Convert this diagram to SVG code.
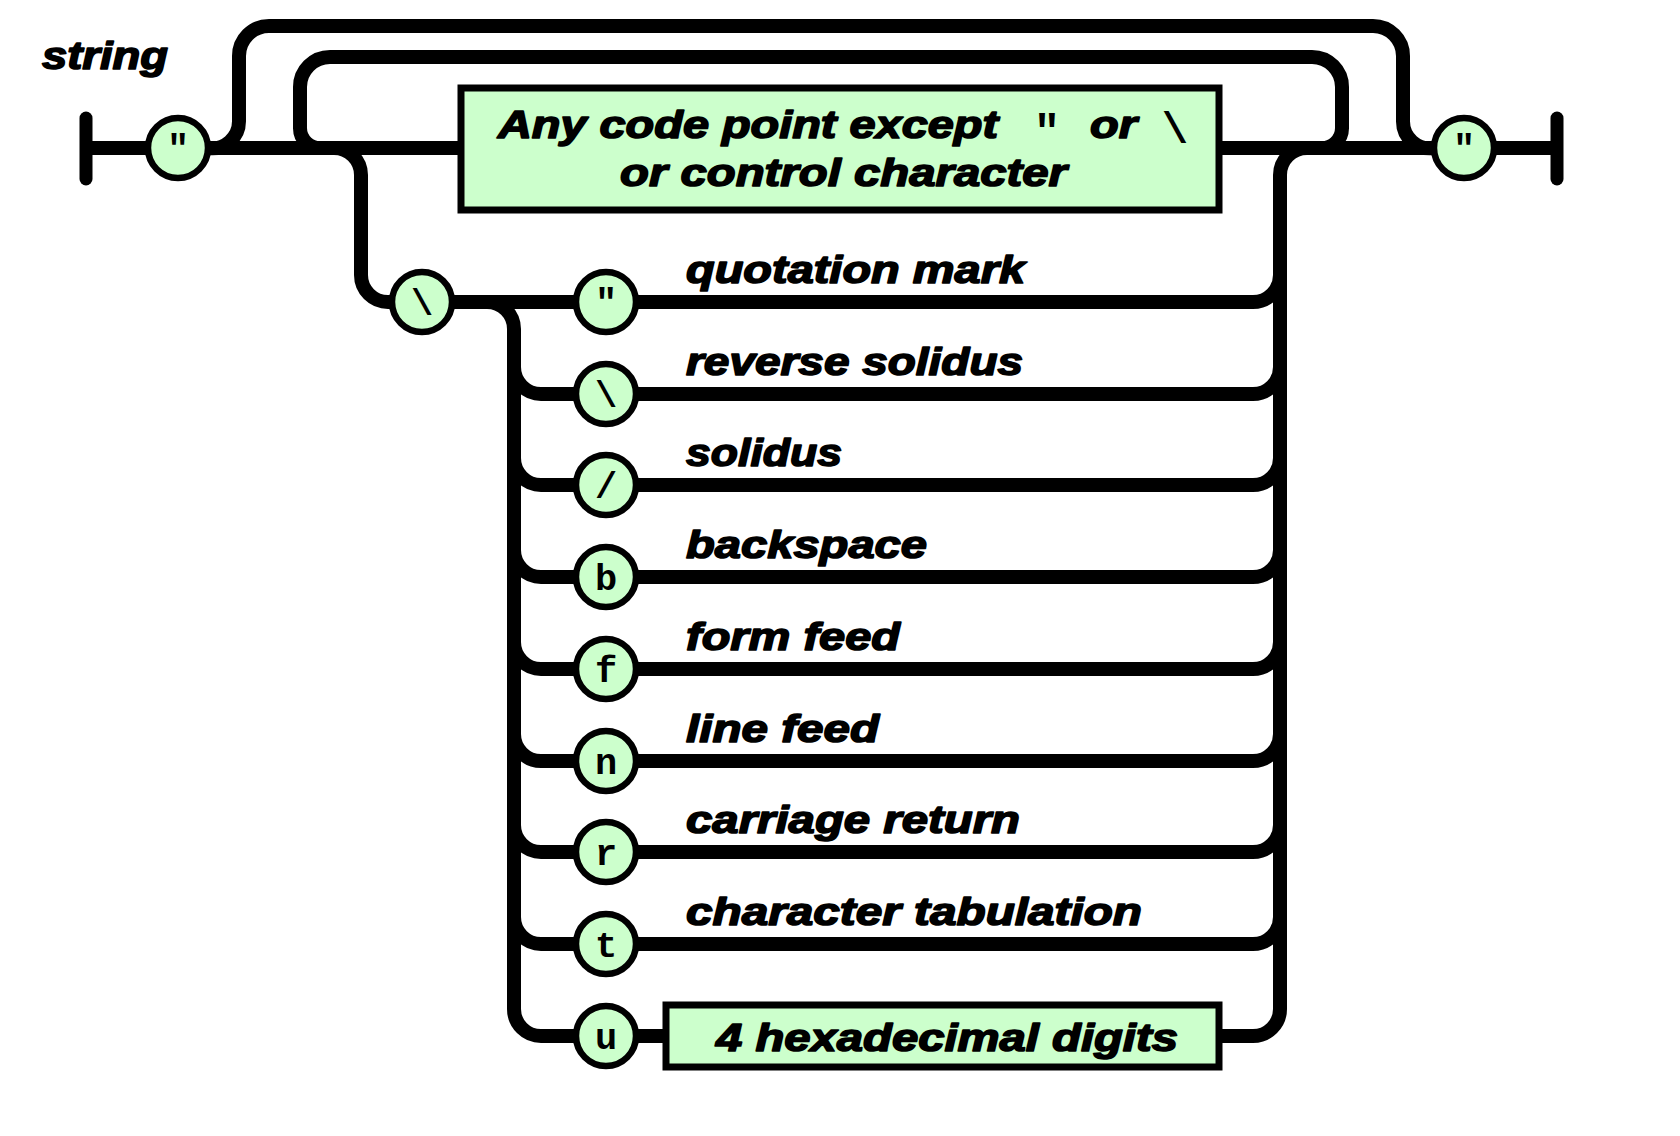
<svg xmlns="http://www.w3.org/2000/svg" width="1680" height="1136" viewBox="0 0 1680 1136">
<style>
.ln{fill:none;stroke:#000;stroke-width:14}
.bar{fill:none;stroke:#000;stroke-width:13;stroke-linecap:round}
.term circle{fill:#ccffcc;stroke:#000;stroke-width:6.5}
.box{fill:#ccffcc;stroke:#000;stroke-width:7}
.lbl{font-family:"Liberation Sans",Arial,sans-serif;font-weight:bold;font-style:italic;font-size:39px;fill:#000;stroke:#000;stroke-width:1.6;stroke-linejoin:round}
.mono{font-family:"Liberation Mono","Courier New",monospace;font-weight:bold;font-size:37px;fill:#000;text-anchor:middle}
.big{font-size:44px}
</style>
<rect width="1680" height="1136" fill="#fff"/>
<text id="title" class="lbl" x="42" y="69" textLength="126" lengthAdjust="spacingAndGlyphs">string</text>
<g id="connectors">
<path class="ln" d="M86 148 H1557"/>
<path class="bar" d="M86 118 V179"/>
<path class="bar" d="M1557 118 V179"/>
<path class="ln" d="M208 148 A27 27 0 0 0 239 121 V56 A30 30 0 0 1 269 26 H1373 A30 30 0 0 1 1403 56 V121 A27 27 0 0 0 1434 148"/>
<path class="ln" d="M322 148 A20 20 0 0 1 300 128 V87 A30 30 0 0 1 330 57 H1312 A30 30 0 0 1 1342 87 V128 A20 20 0 0 1 1320 148"/>
<path class="ln" d="M334 148 A27 27 0 0 1 361 175 V275 A27 27 0 0 0 388 302 H576"/>
<path class="ln" d="M487 302 A27 27 0 0 1 514 329 V1009 A27 27 0 0 0 541 1036 H666"/>
<path class="ln" d="M514 367 A27 27 0 0 0 541 394 H576 M514 458 A27 27 0 0 0 541 485 H576 M514 550 A27 27 0 0 0 541 577 H576 M514 642 A27 27 0 0 0 541 669 H576 M514 734 A27 27 0 0 0 541 761 H576 M514 825 A27 27 0 0 0 541 852 H576 M514 917 A27 27 0 0 0 541 944 H576"/>
<path class="ln" d="M636 302 H1253 A27 27 0 0 0 1280 275 M636 394 H1253 A27 27 0 0 0 1280 367 M636 485 H1253 A27 27 0 0 0 1280 458 M636 577 H1253 A27 27 0 0 0 1280 550 M636 669 H1253 A27 27 0 0 0 1280 642 M636 761 H1253 A27 27 0 0 0 1280 734 M636 852 H1253 A27 27 0 0 0 1280 825 M636 944 H1253 A27 27 0 0 0 1280 917"/>
<path class="ln" d="M1307 148 A27 27 0 0 0 1280 175 V1009 A27 27 0 0 1 1253 1036 H1219"/>
</g>
<g id="open-quote" class="term"><circle cx="178" cy="148" r="30"/><text class="mono" x="178" y="160">"</text></g>
<g id="close-quote" class="term"><circle cx="1464" cy="148" r="30"/><text class="mono" x="1464" y="160">"</text></g>
<g id="any-char">
<rect class="box" x="461" y="88" width="758" height="122"/>
<text class="lbl" x="498" y="138" textLength="500" lengthAdjust="spacingAndGlyphs">Any code point except</text>
<text class="mono big" x="1047" y="145">"</text>
<text class="lbl" x="1090" y="138" textLength="47" lengthAdjust="spacingAndGlyphs">or</text>
<text class="mono big" x="1175" y="143">\</text>
<text class="lbl" x="620" y="186" textLength="447" lengthAdjust="spacingAndGlyphs">or control character</text>
</g>
<g id="backslash" class="term"><circle cx="422" cy="302" r="30"/><text class="mono" x="422" y="315">\</text></g>
<g id="esc-quote" class="term"><circle cx="606" cy="302" r="30"/><text class="mono" x="606" y="314">"</text></g>
<text class="lbl" x="686" y="283" textLength="339" lengthAdjust="spacingAndGlyphs">quotation mark</text>
<g id="esc-backslash" class="term"><circle cx="606" cy="394" r="30"/><text class="mono" x="606" y="407">\</text></g>
<text class="lbl" x="686" y="375" textLength="337" lengthAdjust="spacingAndGlyphs">reverse solidus</text>
<g id="esc-solidus" class="term"><circle cx="606" cy="485" r="30"/><text class="mono" x="606" y="498">/</text></g>
<text class="lbl" x="686" y="466" textLength="156" lengthAdjust="spacingAndGlyphs">solidus</text>
<g id="esc-b" class="term"><circle cx="606" cy="577" r="30"/><text class="mono" x="606" y="590">b</text></g>
<text class="lbl" x="686" y="558" textLength="241" lengthAdjust="spacingAndGlyphs">backspace</text>
<g id="esc-f" class="term"><circle cx="606" cy="669" r="30"/><text class="mono" x="606" y="682">f</text></g>
<text class="lbl" x="686" y="650" textLength="214" lengthAdjust="spacingAndGlyphs">form feed</text>
<g id="esc-n" class="term"><circle cx="606" cy="761" r="30"/><text class="mono" x="606" y="774">n</text></g>
<text class="lbl" x="686" y="742" textLength="193" lengthAdjust="spacingAndGlyphs">line feed</text>
<g id="esc-r" class="term"><circle cx="606" cy="852" r="30"/><text class="mono" x="606" y="865">r</text></g>
<text class="lbl" x="686" y="833" textLength="334" lengthAdjust="spacingAndGlyphs">carriage return</text>
<g id="esc-t" class="term"><circle cx="606" cy="944" r="30"/><text class="mono" x="606" y="957">t</text></g>
<text class="lbl" x="686" y="925" textLength="456" lengthAdjust="spacingAndGlyphs">character tabulation</text>
<g id="esc-u" class="term"><circle cx="606" cy="1036" r="30"/><text class="mono" x="606" y="1049">u</text></g>
<g id="hex-digits">
<rect class="box" x="666" y="1005" width="553" height="62"/>
<text class="lbl" x="716" y="1051" textLength="462" lengthAdjust="spacingAndGlyphs">4 hexadecimal digits</text>
</g>
</svg>
